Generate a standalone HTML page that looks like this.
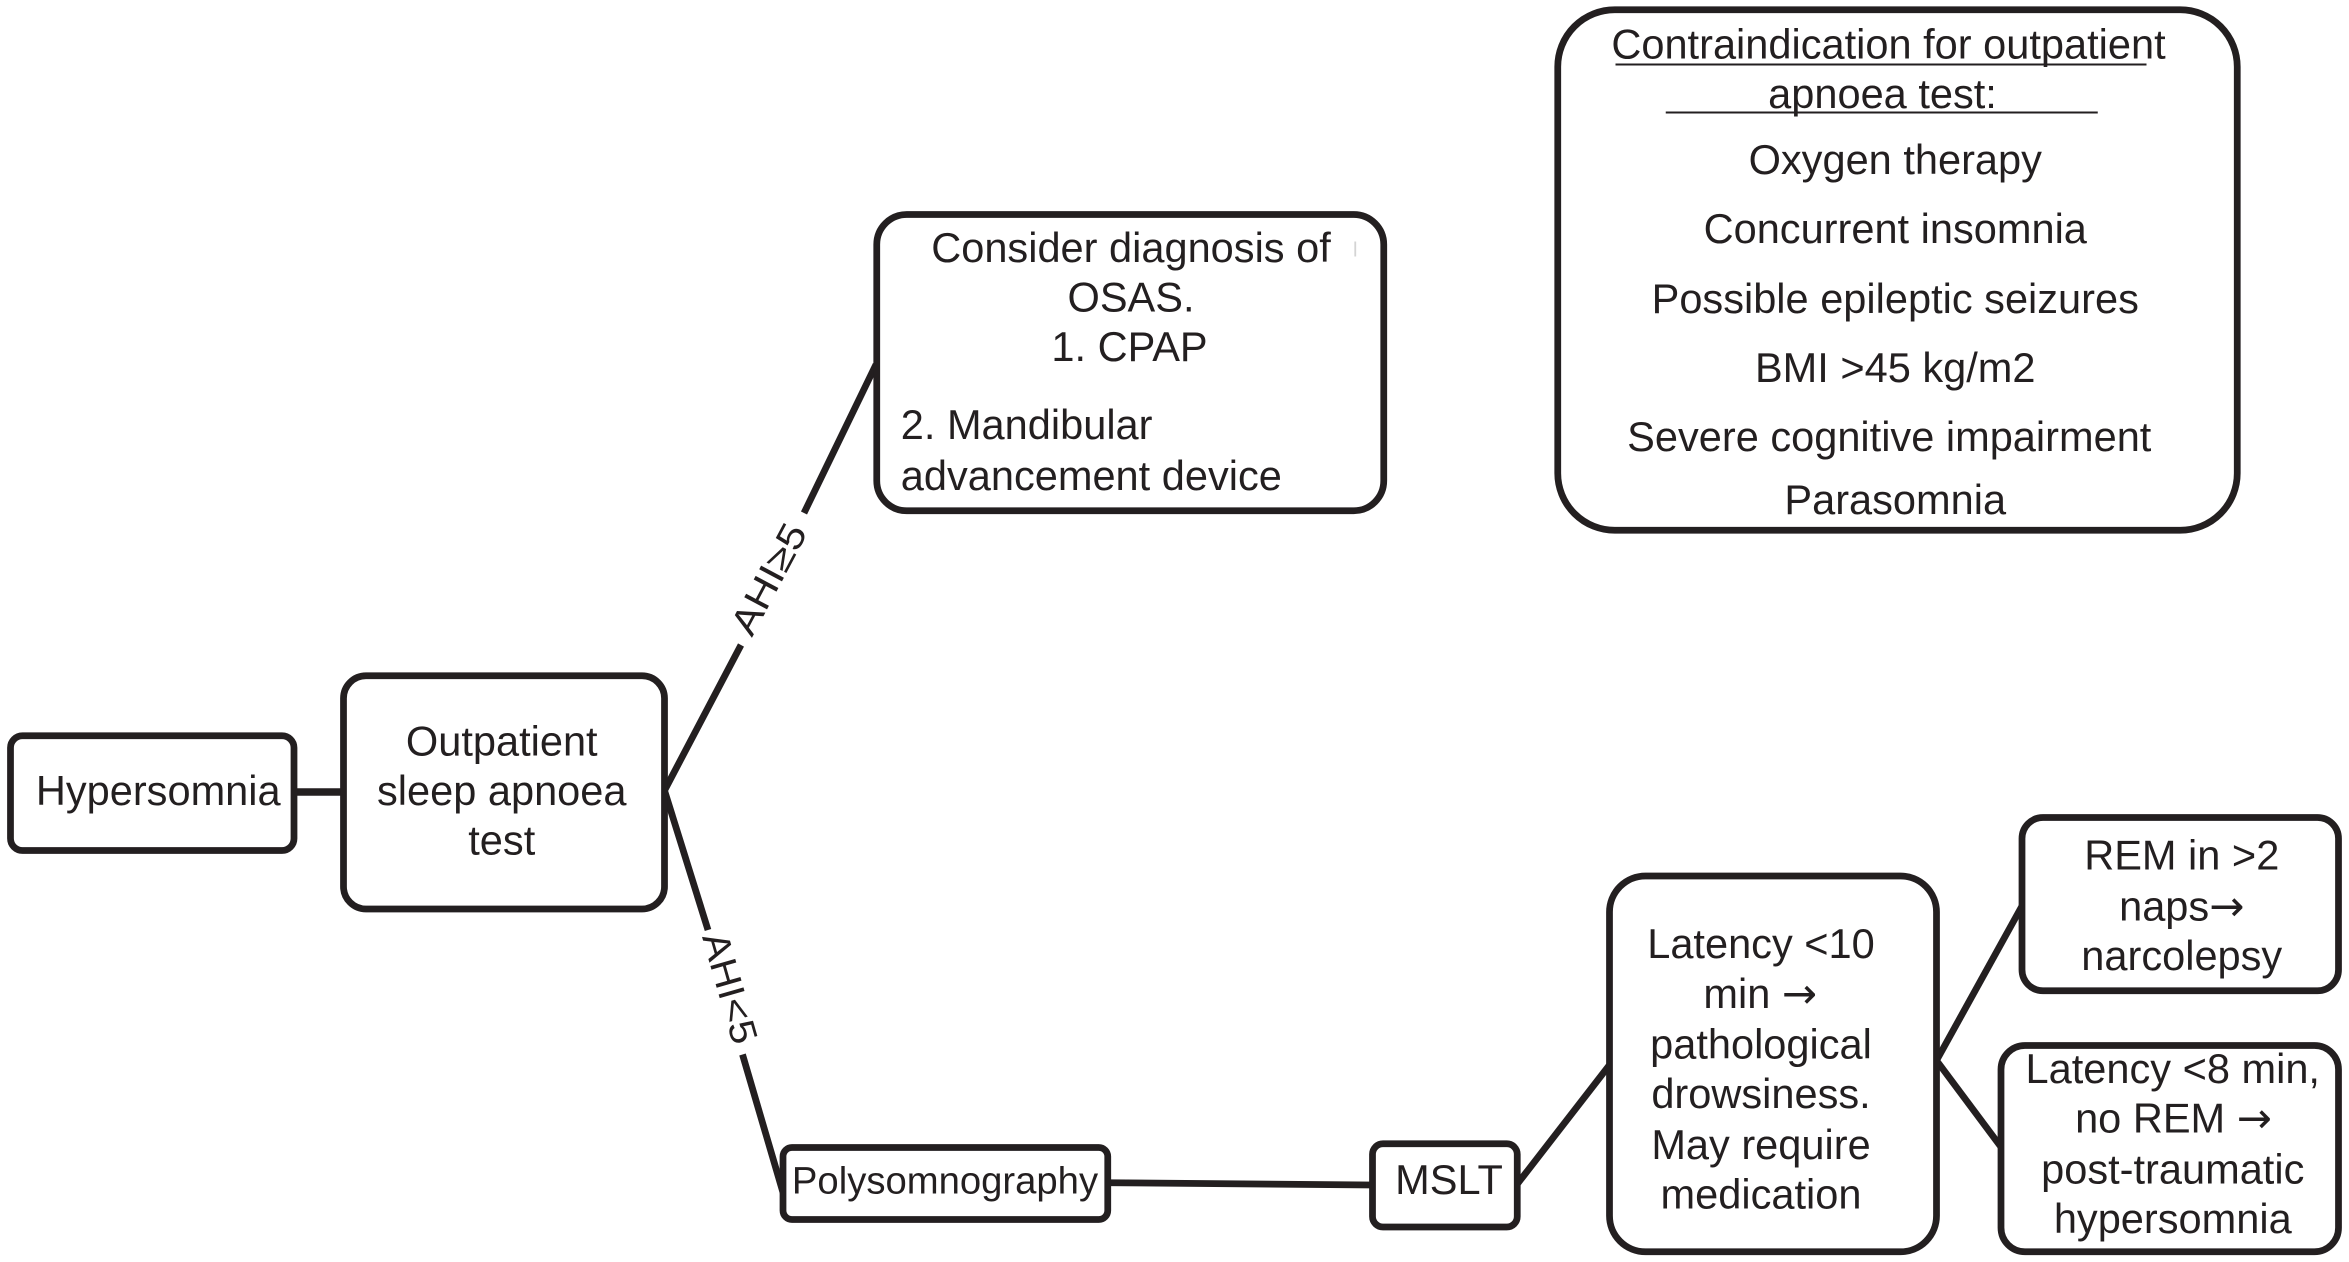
<!DOCTYPE html>
<html lang="en"><head><meta charset="utf-8"><title>Hypersomnia diagnostic flowchart</title>
<style>
html,body{margin:0;padding:0;background:#fff;width:2349px;height:1262px;overflow:hidden}
svg{display:block}
text{font-family:"Liberation Sans",sans-serif;font-size:27.7px;fill:#231f20;text-anchor:middle}
.l{text-anchor:start}
.a{font-family:"DejaVu Sans",sans-serif;font-size:28px;font-weight:normal}
rect{fill:#fff;stroke:#231f20;stroke-width:4.5}
line{stroke:#231f20;stroke-width:4.5}
line.u{stroke-width:1.4}
</style></head><body>
<svg width="2349" height="1262" viewBox="0 0 1566 841.33" xmlns="http://www.w3.org/2000/svg">
<line x1="197" y1="528" x2="229" y2="528" style="stroke-width:5"/>
<line x1="443" y1="527" x2="494" y2="430"/>
<line x1="536" y1="342" x2="584" y2="243"/>
<line x1="443" y1="527" x2="472" y2="620"/>
<line x1="495" y1="703" x2="522" y2="795"/>
<line x1="740" y1="788.5" x2="915" y2="790"/>
<line x1="1011" y1="790" x2="1073" y2="710"/>
<line x1="1291" y1="707" x2="1348" y2="604"/>
<line x1="1291" y1="707" x2="1335" y2="766"/>

<rect x="1038.5" y="6.5" width="453" height="347" rx="38"/>
<rect x="584.5" y="143" width="338" height="197.5" rx="20"/>
<rect x="7" y="490.5" width="189" height="76.5" rx="8"/>
<rect x="229" y="450.5" width="214" height="155.5" rx="15"/>
<rect x="522" y="765" width="216.5" height="48" rx="6"/>
<rect x="915" y="762.5" width="96.5" height="55.5" rx="7"/>
<rect x="1073" y="584" width="218" height="250.5" rx="24"/>
<rect x="1348" y="545" width="211" height="115.5" rx="14"/>
<rect x="1334" y="697" width="225" height="137.5" rx="16"/>

<text x="1259" y="39">Contraindication for outpatient</text>
<line class="u" x1="1077" y1="43" x2="1431" y2="43"/>
<text x="1255" y="72">apnoea test:</text>
<line class="u" x1="1110.5" y1="75" x2="1398.5" y2="75"/>
<text x="1263.5" y="116">Oxygen therapy</text>
<text x="1263.5" y="162">Concurrent insomnia</text>
<text x="1263.5" y="208.5">Possible epileptic seizures</text>
<text x="1263.5" y="254.5">BMI &gt;45 kg/m2</text>
<text x="1259.5" y="300.5">Severe cognitive impairment</text>
<text x="1263.5" y="342.5">Parasomnia</text>

<text x="754" y="174.5">Consider diagnosis of</text>
<text x="754" y="207.5">OSAS.</text>
<text x="753" y="240.5">1. CPAP</text>
<text class="l" x="600.5" y="292.5">2. Mandibular</text>
<text class="l" x="600.5" y="326.5">advancement device</text>
<line x1="903.5" y1="161" x2="903.5" y2="171" style="stroke:#d4d4d4;stroke-width:1.2"/>

<text x="105.5" y="536.5">Hypersomnia</text>
<text x="334.5" y="503.5">Outpatient</text>
<text x="334.5" y="536.5">sleep apnoea</text>
<text x="334.5" y="569.5">test</text>

<text x="630" y="795.5" style="font-size:25.5px">Polysomnography</text>
<text x="966" y="796">MSLT</text>

<text x="1174" y="638.5">Latency &lt;10</text>
<text x="1173.5" y="672">min <tspan class="a">→</tspan></text>
<text x="1174" y="705.5">pathological</text>
<text x="1174" y="738.5">drowsiness.</text>
<text x="1174" y="772.5">May require</text>
<text x="1174" y="805.5">medication</text>

<text x="1454.5" y="579.5">REM in &gt;2</text>
<text x="1454.5" y="613.5">naps<tspan class="a">→</tspan></text>
<text x="1454.5" y="646.5">narcolepsy</text>

<text x="1448.5" y="722">Latency &lt;8 min,</text>
<text x="1449" y="755">no REM <tspan class="a">→</tspan></text>
<text x="1448.5" y="789">post-traumatic</text>
<text x="1448.5" y="822">hypersomnia</text>

<text transform="translate(520,390) rotate(-62)" textLength="80" lengthAdjust="spacingAndGlyphs" style="font-size:25px">AHI≥5</text>
<text transform="translate(478.5,661) rotate(74)" textLength="76" lengthAdjust="spacingAndGlyphs" style="font-size:25px">AHI&lt;5</text>
</svg>
</body></html>
